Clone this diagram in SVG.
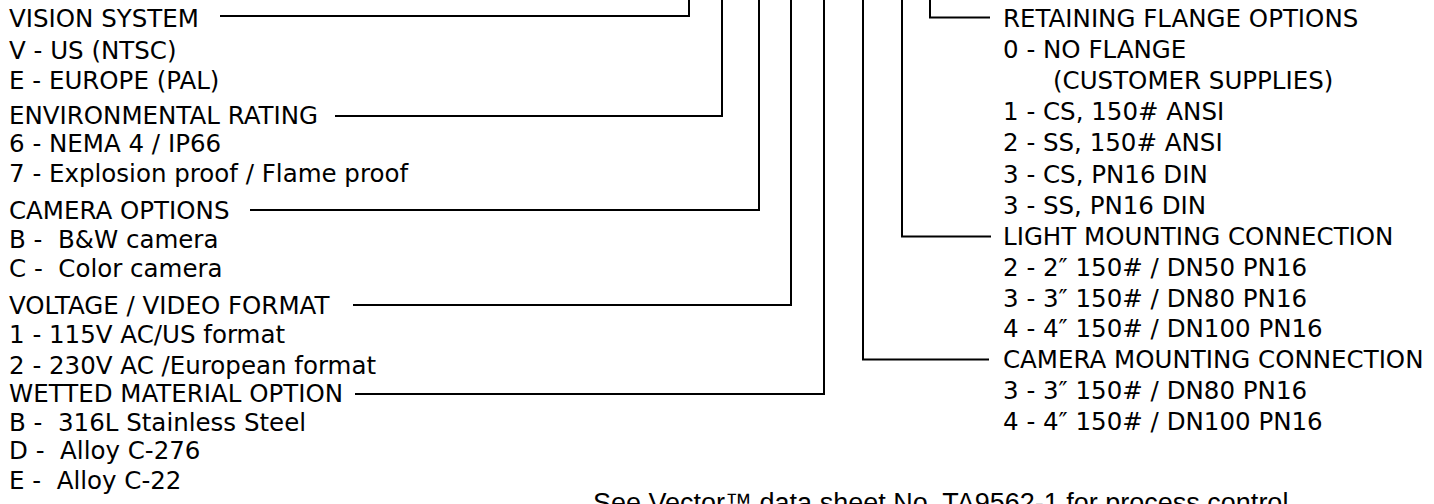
<svg xmlns="http://www.w3.org/2000/svg" width="1434" height="504" viewBox="0 0 1434 504">
<style>
.t{font-family:"DejaVu Sans",Verdana,sans-serif;font-size:24.5px;fill:#000;white-space:pre}
.n{font-family:"Liberation Sans",Arial,sans-serif;font-size:27px;fill:#000}
.c{fill:none;stroke:#000;stroke-width:2}
</style>
<rect width="1434" height="504" fill="#fff"/>
<g id="connectors">
<path class="c" d="M220,16H689V0"/>
<path class="c" d="M335,116H722V0"/>
<path class="c" d="M250,210H759V0"/>
<path class="c" d="M353,305H791V0"/>
<path class="c" d="M355,394H824V0"/>
<path class="c" d="M863,0V359.5H989"/>
<path class="c" d="M902,0V236.5H991"/>
<path class="c" d="M930,0V17.5H990"/>
</g>
<g id="vision-system">
<text class="t" x="9" y="26.5">VISION SYSTEM</text>
<text class="t" x="9" y="58.5">V - US (NTSC)</text>
<text class="t" x="9" y="88.5">E - EUROPE (PAL)</text>
</g>
<g id="environmental-rating">
<text class="t" x="9" y="123.5">ENVIRONMENTAL RATING</text>
<text class="t" x="9" y="152">6 - NEMA 4 / IP66</text>
<text class="t" x="9" y="182">7 - Explosion proof / Flame proof</text>
</g>
<g id="camera-options">
<text class="t" x="9" y="218.5">CAMERA OPTIONS</text>
<text class="t" x="9" y="248">B -  B&amp;W camera</text>
<text class="t" x="9" y="277">C -  Color camera</text>
</g>
<g id="voltage-video-format">
<text class="t" x="9" y="313.5">VOLTAGE / VIDEO FORMAT</text>
<text class="t" x="9" y="343">1 - 115V AC/US format</text>
<text class="t" x="9" y="373.5">2 - 230V AC /European format</text>
</g>
<g id="wetted-material-option">
<text class="t" x="9" y="402">WETTED MATERIAL OPTION</text>
<text class="t" x="9" y="430.5">B -  316L Stainless Steel</text>
<text class="t" x="9" y="459">D -  Alloy C-276</text>
<text class="t" x="9" y="488.5">E -  Alloy C-22</text>
</g>
<g id="retaining-flange-options">
<text class="t" x="1003" y="26.5">RETAINING FLANGE OPTIONS</text>
<text class="t" x="1003" y="57.7">0 - NO FLANGE</text>
<text class="t" x="1053" y="88.9">(CUSTOMER SUPPLIES)</text>
<text class="t" x="1003" y="120.1">1 - CS, 150# ANSI</text>
<text class="t" x="1003" y="151.3">2 - SS, 150# ANSI</text>
<text class="t" x="1003" y="182.5">3 - CS, PN16 DIN</text>
<text class="t" x="1003" y="213.7">3 - SS, PN16 DIN</text>
</g>
<g id="light-mounting-connection">
<text class="t" x="1003" y="245">LIGHT MOUNTING CONNECTION</text>
<text class="t" x="1003" y="275.8">2 - 2″ 150# / DN50 PN16</text>
<text class="t" x="1003" y="306.5">3 - 3″ 150# / DN80 PN16</text>
<text class="t" x="1003" y="337.3">4 - 4″ 150# / DN100 PN16</text>
</g>
<g id="camera-mounting-connection">
<text class="t" x="1003" y="368">CAMERA MOUNTING CONNECTION</text>
<text class="t" x="1003" y="398.8">3 - 3″ 150# / DN80 PN16</text>
<text class="t" x="1003" y="429.5">4 - 4″ 150# / DN100 PN16</text>
</g>
<g id="note">
<text class="n" x="593" y="512">See Vector™ data sheet No. TA9562-1 for process control</text>
</g>
</svg>
